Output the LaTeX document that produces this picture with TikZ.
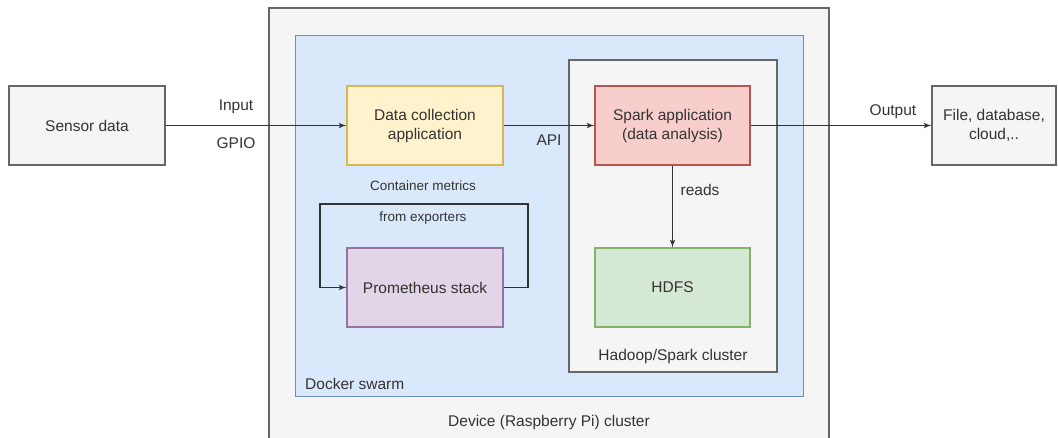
\documentclass[tikz,border=0pt]{standalone}
\usepackage{fontspec}
\setmainfont{Liberation Sans}
\usetikzlibrary{arrows}
\usetikzlibrary{positioning}
\definecolor{txtgray}{HTML}{333333}
\definecolor{grayfill}{HTML}{F5F5F5}
\definecolor{graydraw}{HTML}{666666}
\definecolor{bluefill}{HTML}{DAE8FC}
\definecolor{bluedraw}{HTML}{6C8EBF}
\definecolor{yellowfill}{HTML}{FFF2CC}
\definecolor{yellowdraw}{HTML}{D6B656}
\definecolor{redfill}{HTML}{F8CECC}
\definecolor{reddraw}{HTML}{B85450}
\definecolor{greenfill}{HTML}{D5E8D4}
\definecolor{greendraw}{HTML}{82B366}
\definecolor{purplefill}{HTML}{E1D5E7}
\definecolor{purpledraw}{HTML}{9673A6}
\tikzset{
  block/.style={draw, rectangle, line width=1.3pt, minimum width=156pt, minimum height=79pt,
    align=center, text=txtgray, font=\fontsize{15.5}{19}\selectfont},
  lbl/.style={text=txtgray, font=\fontsize{15.5}{19}\selectfont, inner sep=0pt},
  smalllbl/.style={text=txtgray, font=\fontsize{13.5}{16}\selectfont, inner sep=0pt},
  flow/.style={-latex', line width=1.6pt, draw=black!80}
}

\begin{document}
\begin{tikzpicture}[x=1pt, y=-1pt]
    \useasboundingbox (0,0) rectangle (1058,437);

    \draw [line width=1.4pt, graydraw, fill=grayfill] (269,8) rectangle (829,442);
    \draw [line width=1pt, bluedraw, fill=bluefill] (295,35) rectangle (803,396);
    \draw [line width=1.3pt, graydraw, fill=grayfill] (569,60) rectangle (777,372);

    \node [lbl] (devlbl) at (549,422) {Device (Raspberry Pi) cluster};
    \node [lbl, anchor=west] (swarmlbl) at (305,384) {Docker swarm};
    \node [lbl] (hadooplbl) at (673,356) {Hadoop/Spark cluster};

    \node [block, draw=graydraw, fill=grayfill] (sensor) at (87,125.5) {Sensor data};
    \node [block, draw=yellowdraw, fill=yellowfill] (collect) at (425,125.5) {Data collection\\application};
    \node [block, draw=reddraw, fill=redfill, minimum width=155pt] (spark) at (672.5,125.5) {Spark application\\(data analysis)};
    \node [block, draw=purpledraw, fill=purplefill] (prom) at (425,287.5) {Prometheus stack};
    \node [block, draw=greendraw, fill=greenfill, minimum width=155pt] (hdfs) at (672.5,287.5) {HDFS};
    \node [block, draw=graydraw, fill=grayfill, minimum width=124pt] (sink) at (994,125.5) {File, database,\\cloud,..};

    \draw [flow] (sensor) -- (collect);
    \node [lbl] (inlbl) at (236,107) {Input};
    \node [lbl] (gpiolbl) at (236,143) {GPIO};

    \draw [flow] (collect) -- (spark);
    \node [lbl] (apilbl) at (549,140) {API};

    \draw [flow] (spark) -- (hdfs);
    \node [lbl] (readslbl) at (700,190) {reads};

    \draw [flow] (spark) -- (sink);
    \node [lbl] (outlbl) at (893,112) {Output};

    \coordinate (loopr) at (528,204);
    \coordinate (loopl) at (320,204);
    \draw [flow] (prom.east) -| (loopr) -- (loopl) |- (prom.west);
    \node [smalllbl] (metricslbl) at (423,186) {Container metrics};
    \node [smalllbl] (exportlbl) at (423,218) {from exporters};
\end{tikzpicture}
\end{document}
